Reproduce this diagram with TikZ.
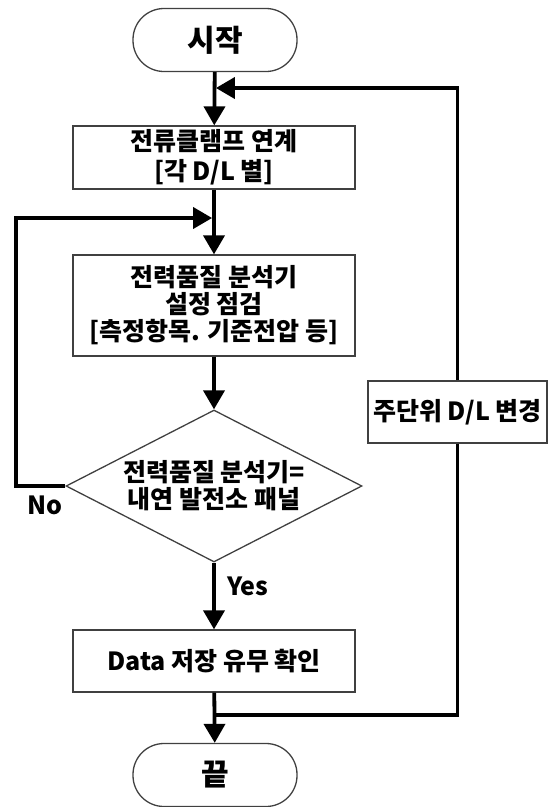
\documentclass[tikz,border=0pt]{standalone}
\usepackage{fontspec}
\setmainfont{Noto Sans CJK KR}
\usetikzlibrary{shapes.geometric,arrows.meta}

\begin{document}
\begin{tikzpicture}[x=1pt,y=-1pt,
    font=\bfseries\fontsize{25}{27}\selectfont,
    flowbox/.style={draw=black!75, line width=1.3pt, minimum width=282pt, align=center, inner sep=0pt},
    terminal/.style={draw=black!75, line width=1.3pt, rounded corners=31pt, minimum width=164pt, minimum height=63pt, font=\bfseries\fontsize{30}{32}\selectfont},
    flow/.style={line width=3.8pt, -{Triangle[width=21pt,length=19pt]}},
    joint/.style={line width=3.8pt}]
    \useasboundingbox (0,0) rectangle (547,807);
    \node[terminal] (start) at (215,40) {시작};
    \node[flowbox, minimum height=63pt] (clamp) at (214,157.5) {전류클램프 연계\\[3pt]{[}각 D/L 별{]}};
    \node[flowbox, minimum height=101pt] (setup) at (214,305.5) {전력품질 분석기\\설정 점검\\{[}측정항목. 기준전압 등{]}};
    \node[diamond, draw=black!75, line width=1.3pt, aspect=2, minimum width=296pt, minimum height=152pt, inner sep=0pt, align=center] (check) at (214,486) {전력품질 분석기=\\내연 발전소 패널};
    \node[flowbox, minimum height=62pt] (save) at (214,661) {Data 저장 유무 확인};
    \node[draw=black!75, line width=1.3pt, minimum width=179pt, minimum height=62pt, inner sep=0pt] (change) at (457.5,412) {주단위 D/L 변경};
    \node[terminal] (finish) at (215,775) {끝};
    \node (nolabel) at (45,505) {No};
    \coordinate (top) at (214,88);
    \coordinate (mid) at (214,218);
    \coordinate (loopleft) at (16,218);
    \coordinate (bot) at (214,715);
    \draw[flow] (start) -- (clamp);
    \draw[flow, shorten >=1.9pt] (change.north) |- (top);
    \draw[flow] (clamp) -- (setup);
    \draw[flow, shorten >=1.9pt] (check.west) -| (loopleft) -- (mid);
    \draw[flow] (setup) -- (check);
    \draw[flow] (check) -- node[pos=0.35, anchor=west, xshift=8pt] (yeslabel) {Yes} (save);
    \draw[flow] (save) -- (finish);
    \draw[joint] (change.south) |- (bot);
\end{tikzpicture}
\end{document}
